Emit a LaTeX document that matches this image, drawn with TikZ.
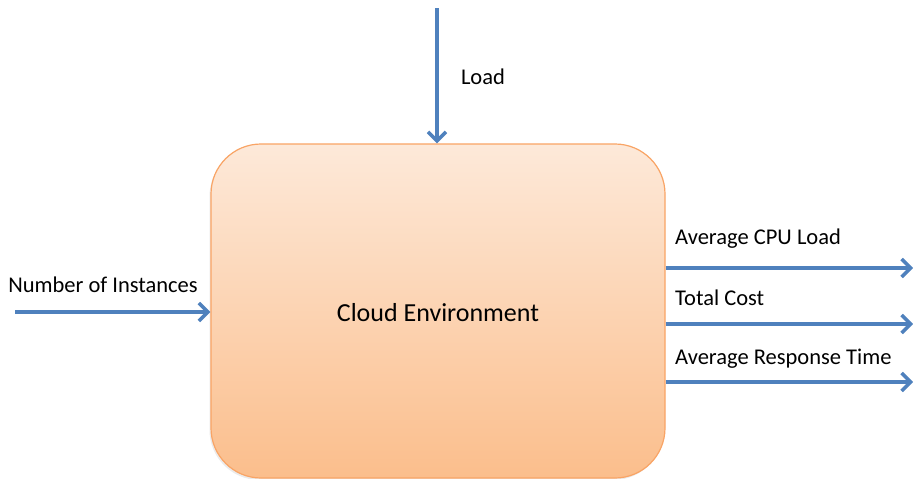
\documentclass[tikz,border=0pt]{standalone}
\usepackage{fontspec}
\setmainfont{Carlito}
\usetikzlibrary{arrows.meta}
\definecolor{arrowblue}{HTML}{4F81BD}
\definecolor{boxtop}{HTML}{FDE9D9}
\definecolor{boxbot}{HTML}{FBBE8C}
\definecolor{boxline}{HTML}{F9A465}
\tikzset{
  flow/.style={draw=arrowblue, line width=4pt, -{Straight Barb[length=9pt,width=18pt,line width=3.5pt]}},
  lbl/.style={font=\fontsize{22.5}{24}\selectfont, inner sep=0pt},
  envbox/.style={draw=boxline, line width=1.2pt, rounded corners=50pt, top color=boxtop, bottom color=boxbot, minimum width=454pt, minimum height=334pt, inner sep=0pt}
}
\begin{document}
\begin{tikzpicture}[x=1pt,y=-1pt]
\useasboundingbox[fill=white] (0,0) rectangle (913,479);
\fill[black!8, rounded corners=50pt] (209.5,146.5) rectangle (663.5,480);
\node[envbox] (env) at (438,311) {};
\node[lbl, font=\fontsize{26}{28}\selectfont] (envt) at (438,313) {Cloud Environment};
\coordinate (loadS) at (437,8);
\coordinate (numS) at (15,312);
\coordinate (cpuE) at (913,268);
\coordinate (costE) at (913,324);
\coordinate (respE) at (913,382);
\draw[flow] (loadS) -- (env.north -| loadS);
\draw[flow] (numS) -- (env.west |- numS);
\draw[flow] (env.east |- cpuE) -- (cpuE);
\draw[flow] (env.east |- costE) -- (costE);
\draw[flow] (env.east |- respE) -- (respE);
\node[lbl] (loadL) at (483,77) {Load};
\node[lbl] (numL) at (103,285) {Number of Instances};
\node[lbl, anchor=west] (cpuL) at (675,239) {Average CPU Load};
\node[lbl, anchor=west] (costL) at (675,298) {Total Cost};
\node[lbl, anchor=west] (respL) at (675,359) {Average Response Time};
\end{tikzpicture}
\end{document}
